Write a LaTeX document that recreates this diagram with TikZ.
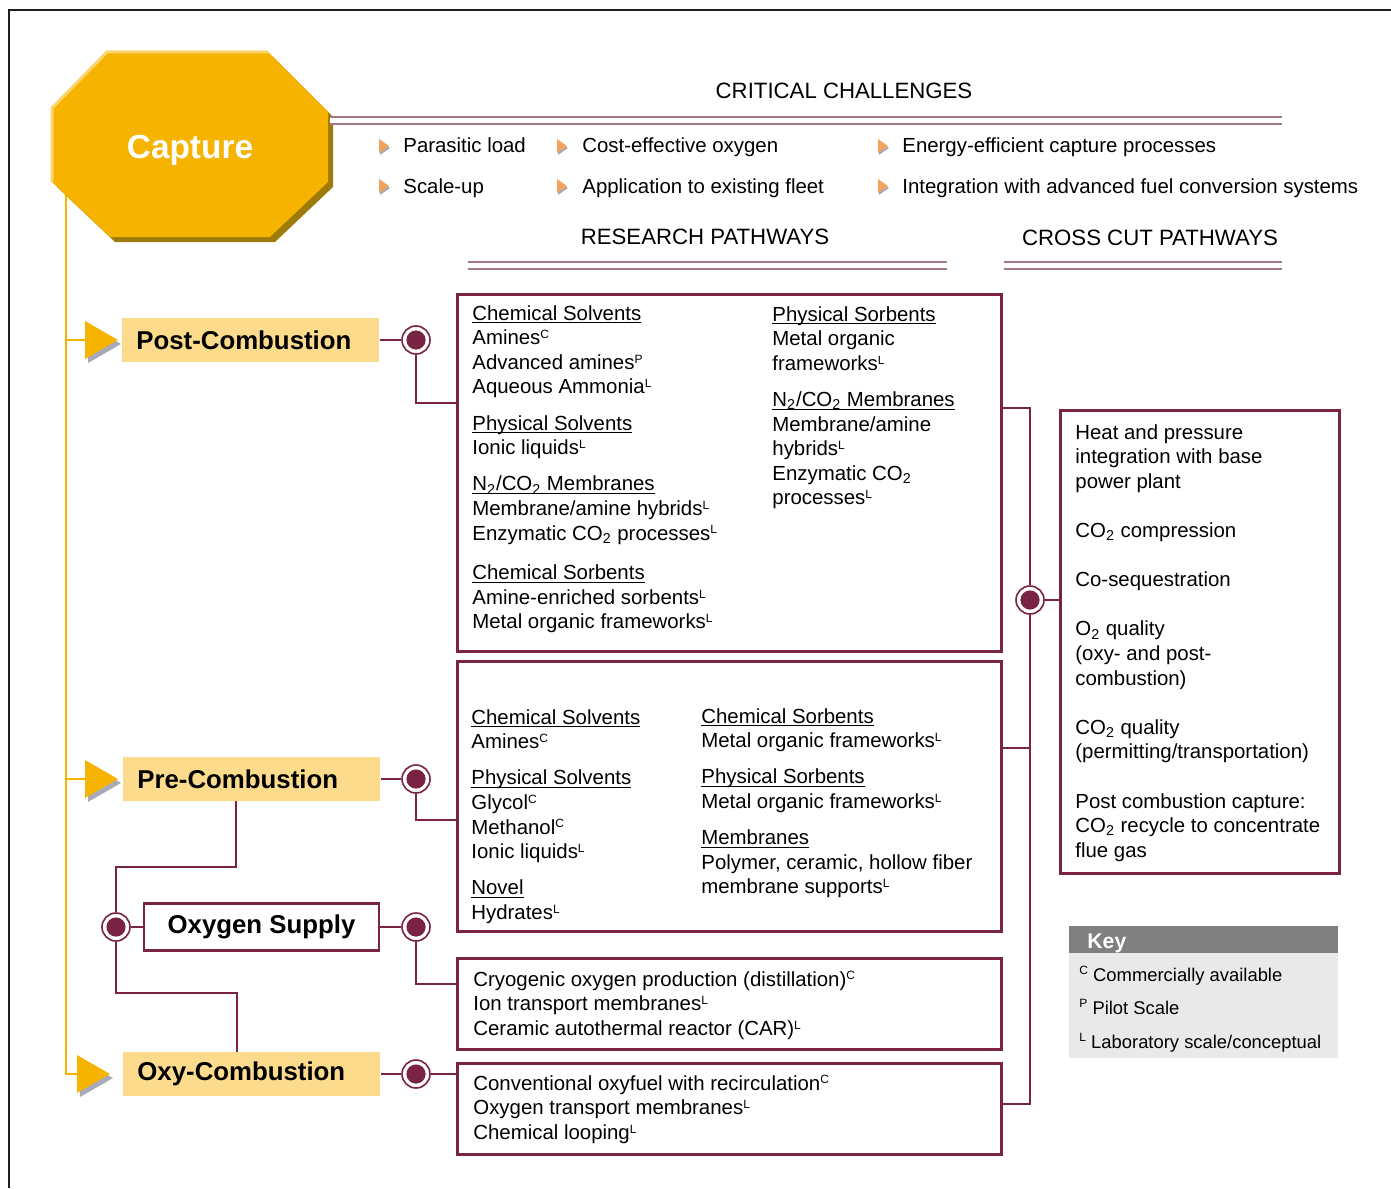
\documentclass[tikz,border=0pt]{standalone}
\usepackage{fontspec}
\setmainfont{Liberation Sans}
\usetikzlibrary{calc}
\definecolor{maroon}{HTML}{7A2344}
\definecolor{gold}{HTML}{F6B400}
\definecolor{golddark}{HTML}{9E7A0A}
\definecolor{goldlight}{HTML}{FAD46E}
\definecolor{pale}{HTML}{FCDB8C}
\definecolor{mauve}{HTML}{A27788}
\definecolor{tipshade}{HTML}{A8AAB8}
\definecolor{bullet}{HTML}{F2A35E}
\definecolor{keyhead}{HTML}{808080}
\definecolor{keybody}{HTML}{E9E9E9}
\definecolor{frame}{HTML}{1E1E1E}
\newcommand{\bodyfont}{\fontsize{10.2}{12.3}\selectfont}
\newcommand{\headfont}{\fontsize{11.1}{13}\selectfont}
\newcommand{\tagfont}{\fontsize{12.9}{15}\selectfont\bfseries}
\newcommand{\keyfont}{\fontsize{9.2}{11}\selectfont}
\newcommand{\uln}[1]{\setbox0\hbox{#1}\rlap{\rule[-1.6pt]{\wd0}{0.5pt}}\box0}
\newcommand{\scl}[1]{\raisebox{3.1pt}{\fontsize{6}{6}\selectfont #1}}
\newcommand{\two}{\textsubscript{2}}
\tikzset{
  rbox/.style={draw=maroon, line width=1.5pt, inner sep=0pt, anchor=north west},
  conn/.style={draw=maroon, line width=1pt},
  stem/.style={draw=gold, line width=1pt},
  twin/.style={draw=mauve, line width=1.2pt, double=white, double distance=2.3pt},
  tag/.style={fill=pale, anchor=west, inner xsep=7pt, text width=114.5pt, minimum height=22pt, align=left, font=\tagfont},
  dot/.style={circle, draw=maroon, fill=white, line width=0.8pt, minimum size=14pt, inner sep=0pt,
    path picture={\fill[maroon] (path picture bounding box.center) circle (4.8pt);}},
  txt/.style={anchor=base west, align=left, inner sep=0pt, font=\bodyfont},
  col/.style={anchor=north west, align=left, inner sep=0pt, font=\bodyfont},
  hd/.style={anchor=base, inner sep=0pt, font=\headfont},
  keyrow/.style={anchor=base west, inner sep=0pt, font=\keyfont},
  flag/.pic={
    \fill[tipshade] (3,-15) -- (3,23) -- (36,4) -- cycle;
    \fill[gold] (0,-19) -- (0,19) -- (33,0) -- cycle;
  },
  tick/.pic={
    \fill[tipshade] (1,-5) -- (1,9) -- (11,2) -- cycle;
    \fill[bullet] (0,-7) -- (0,7) -- (10,0) -- cycle;
  },
}

\begin{document}
\begin{tikzpicture}[x=0.5pt, y=-0.5pt]
  \useasboundingbox (0,0) rectangle (1391,1188);
  \draw[frame, line width=1.3pt] (9,1188) -- (9,10) -- (1391,10);

  % yellow stem from the octagon
  \coordinate (stemtop) at (66,180);
  \coordinate (postflag) at (85,340);
  \coordinate (preflag) at (85,779);
  \coordinate (oxyflag) at (77,1074);
  \draw[stem] (stemtop) |- (oxyflag);
  \draw[stem] (stemtop |- postflag) -- (postflag);
  \draw[stem] (stemtop |- preflag) -- (preflag);
  \pic at (postflag) {flag};
  \pic at (preflag) {flag};
  \pic at (oxyflag) {flag};

  % capture octagon
  \fill[golddark] (112,57) -- (273,57) -- (333,117) -- (333,187) -- (275,242) -- (115,242) -- (57,187) -- (57,113) -- cycle;
  \fill[gold] (107,52) -- (268,52) -- (328,112) -- (328,182) -- (270,237) -- (110,237) -- (52,182) -- (52,108) -- cycle;
  \draw[goldlight, line width=1.5pt] (52,182) -- (52,108) -- (107,52) -- (268,52);
  \node[font=\fontsize{16.7}{20}\selectfont\bfseries, text=white] (capture) at (190,150) {Capture};

  % critical challenges
  \node[hd] (critical) at (844,98) {CRITICAL CHALLENGES};
  \draw[twin] (330,120.5) -- (1282,120.5);
  \foreach \bx in {379,557,878}{
    \pic at (\bx,146) {tick};
    \pic at (\bx,186) {tick};
  }
  \node[txt] (parasitic) at (403,153) {Parasitic load};
  \node[txt] (scaleup) at (403,193) {Scale-up};
  \node[txt] (oxygencost) at (582,153) {Cost-effective oxygen};
  \node[txt] (fleet) at (582,193) {Application to existing fleet};
  \node[txt] (efficient) at (902,153) {Energy-efficient capture processes};
  \node[txt] (integration) at (902,193) {Integration with advanced fuel conversion systems};

  \node[hd] (research) at (705,244) {RESEARCH PATHWAYS};
  \draw[twin] (468,265.5) -- (947,265.5);
  \node[hd] (crosscut) at (1150,245) {CROSS CUT PATHWAYS};
  \draw[twin] (1004,265.5) -- (1282,265.5);

  % pathway boxes
  \node[rbox, minimum width=272pt, minimum height=178.5pt] (postrp) at (456,293) {};
  \node[rbox, minimum width=272pt, minimum height=135pt] (prerp) at (456,660) {};
  \node[rbox, minimum width=272pt, minimum height=45.5pt] (o2rp) at (456,957) {};
  \node[rbox, minimum width=272pt, minimum height=45.5pt] (oxyrp) at (456,1062) {};
  \node[rbox, minimum width=139.5pt, minimum height=231.5pt] (ccbox) at (1059,409) {};

  \node[col] (postl) at (472,305) {\uln{Chemical Solvents}\\ Amines\scl{C}\\ Advanced amines\scl{P}\\ Aqueous Ammonia\scl{L}\\[5.8pt]
    \uln{Physical Solvents}\\ Ionic liquids\scl{L}\\[5.8pt]
    \uln{N\two/CO\two\ Membranes}\\ Membrane/amine hybrids\scl{L}\\ Enzymatic CO\two\ processes\scl{L}\\[7.5pt]
    \uln{Chemical Sorbents}\\ Amine-enriched sorbents\scl{L}\\ Metal organic frameworks\scl{L}};
  \node[col] (postr) at (772,306) {\uln{Physical Sorbents}\\ Metal organic\\ frameworks\scl{L}\\[5.8pt]
    \uln{N\two/CO\two\ Membranes}\\ Membrane/amine\\ hybrids\scl{L}\\ Enzymatic CO\two\\ processes\scl{L}};

  \node[col] (prel) at (471,709) {\uln{Chemical Solvents}\\ Amines\scl{C}\\[5.8pt]
    \uln{Physical Solvents}\\ Glycol\scl{C}\\ Methanol\scl{C}\\ Ionic liquids\scl{L}\\[5.8pt]
    \uln{Novel}\\ Hydrates\scl{L}};
  \node[col] (prer) at (701,708) {\uln{Chemical Sorbents}\\ Metal organic frameworks\scl{L}\\[5.8pt]
    \uln{Physical Sorbents}\\ Metal organic frameworks\scl{L}\\[5.8pt]
    \uln{Membranes}\\ Polymer, ceramic, hollow fiber\\ membrane supports\scl{L}};

  \node[col] (o2l) at (473,971) {Cryogenic oxygen production (distillation)\scl{C}\\ Ion transport membranes\scl{L}\\ Ceramic autothermal reactor (CAR)\scl{L}};
  \node[col] (oxyl) at (473,1075) {Conventional oxyfuel with recirculation\scl{C}\\ Oxygen transport membranes\scl{L}\\ Chemical looping\scl{L}};

  \node[col] (ccl) at (1075,424) {Heat and pressure\\ integration with base\\ power plant\\[12.3pt]
    CO\two\ compression\\[12.3pt] Co-sequestration\\[12.3pt]
    O\two\ quality\\ (oxy- and post-\\ combustion)\\[12.3pt]
    CO\two\ quality\\ (permitting/transportation)\\[12.3pt]
    Post combustion capture:\\ CO\two\ recycle to concentrate\\ flue gas};

  % capture routes
  \node[tag] (post) at (122,340) {Post-Combustion};
  \node[tag] (pre) at (123,779) {Pre-Combustion};
  \node[tag] (oxy) at (123,1074) {Oxy-Combustion};
  \node[draw=maroon, line width=1.2pt, fill=white, minimum width=117.5pt, minimum height=23.5pt, font=\tagfont] (supply) at (261.5,927) {Oxygen Supply};

  \node[dot] (postdot) at (416,340) {};
  \node[dot] (predot) at (416,779) {};
  \node[dot] (supdot) at (416,927) {};
  \node[dot] (oxydot) at (416,1074) {};
  \node[dot] (leftdot) at (116,927) {};
  \node[dot] (ccdot) at (1030,600) {};

  \draw[conn] (post) -- (postdot);
  \draw[conn] (postdot) |- ([yshift=-55pt]postrp.north west);
  \draw[conn] (pre) -- (predot);
  \draw[conn] (predot) |- ([yshift=-80pt]prerp.north west);
  \draw[conn] (supply) -- (supdot);
  \draw[conn] (supdot) |- ([yshift=-13.5pt]o2rp.north west);
  \draw[conn] (oxy) -- (oxydot) -- (oxyrp.west |- oxydot);

  \coordinate (highbend) at (116,867);
  \coordinate (lowbend) at (116,993);
  \draw[conn] ([xshift=-7.75pt]pre.south) |- (highbend) -- (leftdot);
  \draw[conn] (leftdot) -- (supply);
  \draw[conn] (leftdot) -- (lowbend) -| ([xshift=-7.25pt]oxy.north);

  % cross cut links
  \coordinate (cctop) at (1030,408);
  \coordinate (ccmid) at (1030,748);
  \coordinate (ccbot) at (1030,1104);
  \draw[conn] (postrp.east |- cctop) -- (cctop) -- (ccdot);
  \draw[conn] (ccdot) -- (ccbot) -- (oxyrp.east |- ccbot);
  \draw[conn] (ccmid) -- (prerp.east |- ccmid);
  \draw[conn] (ccdot) -- (ccbox.west |- ccdot);

  % key
  \fill[keybody] (1069,953) rectangle (1338,1058);
  \fill[keyhead] (1069,926) rectangle (1338,953);
  \node[anchor=base west, inner sep=0pt, font=\fontsize{10.6}{12}\selectfont\bfseries, text=white] (keytitle) at (1087,948) {Key};
  \node[keyrow] (keyc) at (1079,981) {\scl{C} Commercially available};
  \node[keyrow] (keyp) at (1079,1014) {\scl{P} Pilot Scale};
  \node[keyrow] (keyl) at (1079,1048) {\scl{L} Laboratory scale/conceptual};
\end{tikzpicture}
\end{document}
